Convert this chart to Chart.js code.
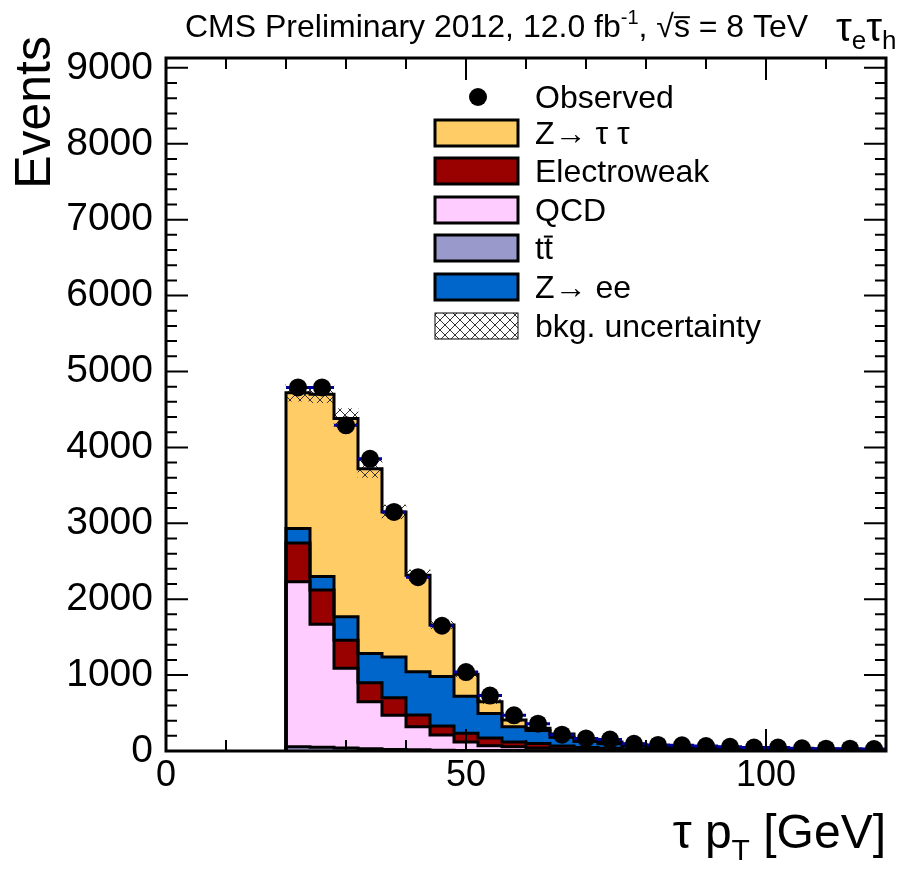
<!DOCTYPE html>
<html>
<head>
<meta charset="utf-8">
<script src="https://cdn.jsdelivr.net/npm/chart.js@4.4.0/dist/chart.umd.min.js"></script>
<style>
  html, body { margin: 0; padding: 0; background: #fff; }
  #wrap { width: 920px; height: 870px; }
</style>
</head>
<body>
<div id="wrap"><canvas id="ptChart" width="920" height="870"></canvas></div>
<script>
// tau pT, 4 GeV bins from 20 to 120 GeV
const binEdges = [20, 24, 28, 32, 36, 40, 44, 48, 52, 56, 60, 64, 68, 72, 76, 80, 84, 88, 92, 96, 100, 104, 108, 112, 116, 120];

// background components (events per bin), bottom of the stack first
const ttbar = [55, 50, 40, 30, 20, 15, 10, 8, 6, 5, 4, 3, 2, 2, 1, 1, 1, 1, 1, 1, 1, 0, 0, 0, 0];
const qcd = [2175, 1620, 1050, 620, 450, 305, 200, 112, 64, 50, 36, 24, 16, 12, 9, 7, 6, 5, 4, 4, 3, 3, 3, 2, 2];
const electroweak = [510, 450, 370, 250, 230, 155, 120, 115, 100, 65, 60, 40, 27, 21, 15, 12, 10, 8, 7, 6, 5, 4, 4, 3, 3];
const zee = [190, 180, 310, 385, 540, 570, 650, 485, 325, 200, 170, 115, 80, 60, 45, 35, 28, 24, 21, 18, 16, 14, 12, 11, 10];
const ztt = [1790, 2400, 2610, 2435, 1910, 1270, 680, 290, 155, 90, 30, 43, 30, 25, 20, 15, 13, 12, 11, 10, 9, 8, 7, 6, 5];
const bkgUnc = [110, 110, 130, 115, 90, 70, 50, 35, 25, 18, 14, 10, 8, 6, 5, 4, 4, 3, 3, 3, 2, 2, 2, 2, 2];

const observed = [4790, 4790, 4290, 3850, 3150, 2290, 1650, 1040, 730, 470, 360, 215, 165, 150, 95, 80, 75, 65, 55, 45, 45, 35, 30, 30, 25];

const yTickValues = [0, 1000, 2000, 3000, 4000, 5000, 6000, 7000, 8000, 9000];
const xTickValues = [0, 50, 100];
const YMAX = 9130;

const FONT = '"Liberation Sans", Arial, sans-serif';
const colZtt = '#ffcc66';
const colEwk = '#990000';
const colQcd = '#ffccff';
const colTt = '#9999cc';
const colZee = '#0066cc';
const colErr = '#00009c';

// hatch pattern for the uncertainty band
function makeHatch() {
  const c = document.createElement('canvas');
  c.width = 10; c.height = 10;
  const g = c.getContext('2d');
  g.strokeStyle = '#333';
  g.lineWidth = 1;
  g.beginPath();
  g.moveTo(0, 0); g.lineTo(10, 10);
  g.moveTo(10, 0); g.lineTo(0, 10);
  g.stroke();
  return g.createPattern(c, 'repeat');
}
const hatch = makeHatch();

const centers = binEdges.slice(0, -1).map((e, i) => (e + binEdges[i + 1]) / 2);

// cumulative tops of the stack
const layers = [ttbar, qcd, electroweak, zee, ztt];
const cumul = [];
let running = centers.map(() => 0);
layers.forEach((arr) => {
  running = running.map((v, i) => v + arr[i]);
  cumul.push(running.slice());
});
const total = cumul[cumul.length - 1];

function stepOutline(tops) {
  const pts = [{ x: binEdges[0], y: 0 }];
  tops.forEach((v, i) => pts.push({ x: binEdges[i], y: v }));
  pts.push({ x: binEdges[binEdges.length - 1], y: 0 });
  return pts;
}

function barData(arr) {
  return arr.map((v, i) => ({ x: centers[i], y: v }));
}

const xErrPts = [];
observed.forEach((v, i) => {
  xErrPts.push({ x: binEdges[i], y: v });
  xErrPts.push({ x: binEdges[i + 1], y: v });
  xErrPts.push({ x: binEdges[i + 1], y: null });
});

const barBase = {
  type: 'bar',
  borderWidth: 0,
  barPercentage: 1,
  categoryPercentage: 1,
  xAxisID: 'x',
  yAxisID: 'y',
};

const outlineBase = {
  type: 'line',
  stepped: 'before',
  borderColor: '#000',
  borderWidth: 3,
  pointRadius: 0,
  fill: false,
  xAxisID: 'x',
  yAxisID: 'y2',
};

const datasets = [
  { ...barBase, label: 'ttbar', data: barData(ttbar), backgroundColor: colTt, order: 10 },
  { ...barBase, label: 'QCD', data: barData(qcd), backgroundColor: colQcd, order: 11 },
  { ...barBase, label: 'Electroweak', data: barData(electroweak), backgroundColor: colEwk, order: 12 },
  { ...barBase, label: 'Zee', data: barData(zee), backgroundColor: colZee, order: 13 },
  { ...barBase, label: 'Ztt', data: barData(ztt), backgroundColor: colZtt, order: 14 },
  {
    type: 'bar', label: 'unc', order: 3, grouped: false,
    data: total.map((v, i) => ({ x: centers[i], y: [v - bkgUnc[i], v + bkgUnc[i]] })),
    backgroundColor: hatch, borderWidth: 0, barPercentage: 1, categoryPercentage: 1,
    xAxisID: 'x', yAxisID: 'y2',
  },
  ...cumul.map((tops, k) => ({ ...outlineBase, label: 'outline' + k, data: stepOutline(tops), order: 2 })),
  {
    type: 'line', label: 'xerr', data: xErrPts, order: 1,
    borderColor: colErr, borderWidth: 3, pointRadius: 0, spanGaps: false, fill: false,
    xAxisID: 'x', yAxisID: 'y2',
  },
  {
    type: 'line', label: 'Observed', data: barData(observed), order: 0,
    showLine: false, pointRadius: 9, pointBackgroundColor: '#000', pointBorderWidth: 0,
    xAxisID: 'x', yAxisID: 'y2',
  },
];

function drawRuns(ctx, runs, x, y, align) {
  let w = 0;
  runs.forEach((r) => {
    ctx.font = r.s + 'px ' + FONT;
    r.w = ctx.measureText(r.t).width;
    w += r.w;
  });
  let cx = align === 'right' ? x - w : x;
  runs.forEach((r) => {
    ctx.font = r.s + 'px ' + FONT;
    ctx.fillText(r.t, cx, y + (r.dy || 0));
    if (r.over) {
      const oy = y + (r.dy || 0) - r.s * (r.oy || 0.62);
      ctx.beginPath();
      ctx.moveTo(cx, oy);
      ctx.lineTo(cx + r.w, oy);
      ctx.lineWidth = 2;
      ctx.stroke();
    }
    cx += r.w;
  });
}

const legendRows = [
  { label: [{ t: 'Observed', s: 32 }], kind: 'dot', y: 97 },
  { label: [{ t: 'Z\u2192 \u03c4 \u03c4', s: 32 }], fill: colZtt, y: 133 },
  { label: [{ t: 'Electroweak', s: 32 }], fill: colEwk, y: 171 },
  { label: [{ t: 'QCD', s: 32 }], fill: colQcd, y: 210 },
  { label: [{ t: 't', s: 32 }, { t: 't', s: 32, over: true, oy: 0.42 }], fill: colTt, y: 248 },
  { label: [{ t: 'Z\u2192 ee', s: 32 }], fill: colZee, y: 287 },
  { label: [{ t: 'bkg. uncertainty', s: 32 }], kind: 'hatch', y: 326 },
];

const frame = {
  id: 'frame',
  afterDatasetsDraw(chart) {
    const { ctx, chartArea: a, scales: { x, y } } = chart;
    ctx.save();
    ctx.strokeStyle = '#000';
    ctx.lineWidth = 2;
    ctx.beginPath();
    for (let v = 200; v < YMAX; v += 200) {
      const py = y.getPixelForValue(v);
      const len = v % 1000 === 0 ? 22 : 11;
      ctx.moveTo(a.left, py); ctx.lineTo(a.left + len, py);
      ctx.moveTo(a.right, py); ctx.lineTo(a.right - len, py);
    }
    for (let v = 10; v < 120; v += 10) {
      const px = x.getPixelForValue(v);
      const len = v % 50 === 0 ? 22 : 11;
      ctx.moveTo(px, a.bottom); ctx.lineTo(px, a.bottom - len);
      ctx.moveTo(px, a.top); ctx.lineTo(px, a.top + len);
    }
    ctx.stroke();
    ctx.lineWidth = 3;
    ctx.strokeRect(a.left, a.top, a.right - a.left, a.bottom - a.top);
    ctx.restore();
  },
  afterDraw(chart) {
    const { ctx } = chart;
    ctx.save();
    ctx.fillStyle = '#000';
    ctx.strokeStyle = '#000';
    ctx.textBaseline = 'alphabetic';

    drawRuns(ctx, [
      { t: 'CMS Preliminary 2012, 12.0 fb', s: 32 },
      { t: '-1', s: 20, dy: -13 },
      { t: ', ', s: 32 },
      { t: '\u221a', s: 32 },
      { t: 's', s: 32, over: true },
      { t: ' = 8 TeV', s: 32 },
    ], 185, 37, 'left');

    drawRuns(ctx, [
      { t: '\u03c4', s: 40 }, { t: 'e', s: 26, dy: 8 },
      { t: '\u03c4', s: 40 }, { t: 'h', s: 26, dy: 8 },
    ], 836, 41, 'left');

    drawRuns(ctx, [
      { t: '\u03c4 p', s: 48 }, { t: 'T', s: 30, dy: 12 }, { t: ' [GeV]', s: 48 },
    ], 886, 848, 'right');

    ctx.save();
    ctx.translate(50, 36);
    ctx.rotate(-Math.PI / 2);
    ctx.textAlign = 'right';
    ctx.font = '50px ' + FONT;
    ctx.fillText('Events', 0, 0);
    ctx.restore();

    // legend
    ctx.textBaseline = 'middle';
    legendRows.forEach((row) => {
      const cy = row.y;
      if (row.kind === 'dot') {
        ctx.beginPath();
        ctx.arc(478, cy, 9, 0, Math.PI * 2);
        ctx.fill();
      } else if (row.kind === 'hatch') {
        ctx.fillStyle = hatch;
        ctx.fillRect(435, cy - 13, 83, 26);
        ctx.fillStyle = '#000';
        ctx.lineWidth = 1;
        ctx.strokeRect(435, cy - 13, 83, 26);
      } else {
        ctx.fillStyle = row.fill;
        ctx.fillRect(435, cy - 13, 83, 26);
        ctx.fillStyle = '#000';
        ctx.lineWidth = 3;
        ctx.strokeRect(435, cy - 13, 83, 26);
      }
      drawRuns(ctx, row.label, 535, cy + 2, 'left');
    });
    ctx.restore();
  },
};

Chart.defaults.font.family = FONT;
Chart.defaults.color = '#000';

new Chart(document.getElementById('ptChart'), {
  type: 'bar',
  data: { datasets },
  options: {
    responsive: false,
    animation: false,
    events: [],
    layout: { padding: { top: 58, right: 34, left: 0, bottom: 0 } },
    plugins: { legend: { display: false }, tooltip: { enabled: false } },
    scales: {
      x: {
        type: 'linear', min: 0, max: 120, stacked: true, offset: false,
        grid: { display: false, drawTicks: false },
        border: { display: false },
        afterBuildTicks(s) { s.ticks = xTickValues.map((v) => ({ value: v })); },
        ticks: { autoSkip: false, maxRotation: 0, padding: 3, color: '#000', font: { size: 36 }, callback: (v) => String(v) },
        afterFit(s) { s.height = 119; },
      },
      y: {
        type: 'linear', min: 0, max: YMAX, stacked: true,
        grid: { display: false, drawTicks: false },
        border: { display: false },
        afterBuildTicks(s) { s.ticks = yTickValues.map((v) => ({ value: v })); },
        ticks: { autoSkip: false, padding: 13, color: '#000', font: { size: 39 }, callback: (v) => String(v) },
        afterFit(s) { s.width = 166; },
      },
      y2: { type: 'linear', axis: 'y', display: false, min: 0, max: YMAX },
    },
  },
  plugins: [frame],
});
</script>
</body>
</html>
